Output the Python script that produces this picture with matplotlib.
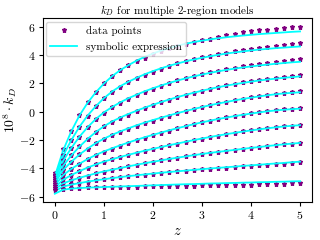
import numpy as np
import matplotlib
matplotlib.use('Agg')
import matplotlib.pyplot as plt

plt.rcParams['font.family'] = 'serif'
plt.rcParams['font.serif'] = ['cmr10']
plt.rcParams['mathtext.fontset'] = 'cm'
plt.rcParams['axes.formatter.use_mathtext'] = True

# redshift grid of the data points
z = [0.0, 0.1667, 0.3333, 0.5, 0.6667, 0.8333, 1.0, 1.1667, 1.3333, 1.5, 1.6667,
     1.8333, 2.0, 2.1667, 2.3333, 2.5, 2.6667, 2.8333, 3.0, 3.1667, 3.3333,
     3.5, 3.6667, 3.8333, 4.0, 4.1667, 4.3333, 4.5, 4.6667, 4.8333, 5.0]

# data points, 10^8 * k_D, one list per model (top to bottom)
pts1 = [-4.30, -2.60, -1.35, -0.25, 0.66, 1.38, 2.00, 2.55, 2.95, 3.27, 3.56, 3.82, 4.06, 4.28, 4.47, 4.64,
        4.79, 4.92, 5.04, 5.15, 5.26, 5.38, 5.50, 5.60, 5.68, 5.74, 5.79, 5.84, 5.89, 5.94, 6.00]
pts2 = [-4.43, -3.04, -1.98, -1.05, -0.27, 0.38, 0.94, 1.40, 1.77, 2.07, 2.35, 2.60, 2.83, 3.04, 3.24, 3.41,
        3.57, 3.71, 3.84, 3.95, 4.05, 4.15, 4.26, 4.35, 4.43, 4.51, 4.58, 4.64, 4.71, 4.76, 4.82]
pts3 = [-4.56, -3.41, -2.54, -1.76, -1.10, -0.52, -0.06, 0.31, 0.64, 0.92, 1.17, 1.41, 1.63, 1.83, 2.02, 2.21,
        2.37, 2.52, 2.66, 2.78, 2.90, 3.01, 3.10, 3.20, 3.29, 3.37, 3.44, 3.52, 3.58, 3.64, 3.69]
pts4 = [-4.70, -3.76, -3.07, -2.45, -1.91, -1.43, -1.03, -0.71, -0.44, -0.20, 0.03, 0.25, 0.46, 0.65, 0.83, 1.01,
        1.17, 1.32, 1.47, 1.62, 1.75, 1.86, 1.96, 2.06, 2.15, 2.23, 2.31, 2.39, 2.45, 2.51, 2.56]
pts5 = [-4.83, -4.08, -3.52, -3.01, -2.61, -2.23, -1.92, -1.65, -1.41, -1.20, -0.99, -0.80, -0.62, -0.44, -0.27, -0.11,
        0.05, 0.20, 0.34, 0.47, 0.60, 0.71, 0.82, 0.92, 1.01, 1.10, 1.18, 1.26, 1.32, 1.37, 1.43]
pts6 = [-4.96, -4.44, -4.02, -3.66, -3.34, -3.06, -2.82, -2.60, -2.39, -2.20, -2.01, -1.83, -1.66, -1.49, -1.33, -1.17,
        -1.02, -0.88, -0.74, -0.62, -0.50, -0.40, -0.30, -0.21, -0.12, -0.04, 0.03, 0.10, 0.16, 0.21, 0.26]
pts7 = [-5.09, -4.74, -4.45, -4.18, -3.94, -3.72, -3.52, -3.36, -3.20, -3.05, -2.90, -2.76, -2.63, -2.49, -2.36, -2.24,
        -2.12, -2.00, -1.89, -1.78, -1.68, -1.58, -1.48, -1.39, -1.31, -1.23, -1.16, -1.09, -1.03, -0.98, -0.94]
pts8 = [-5.22, -4.99, -4.81, -4.65, -4.50, -4.35, -4.22, -4.10, -3.98, -3.85, -3.74, -3.63, -3.53, -3.43, -3.33, -3.23,
        -3.14, -3.06, -2.98, -2.91, -2.85, -2.77, -2.70, -2.62, -2.55, -2.49, -2.42, -2.36, -2.31, -2.25, -2.20]
pts9 = [-5.35, -5.22, -5.11, -5.01, -4.92, -4.84, -4.76, -4.68, -4.61, -4.55, -4.49, -4.43, -4.37, -4.31, -4.26, -4.21,
        -4.16, -4.11, -4.06, -4.02, -3.98, -3.94, -3.90, -3.86, -3.82, -3.78, -3.74, -3.70, -3.66, -3.61, -3.56]
pts10 = [-5.50, -5.43, -5.39, -5.36, -5.34, -5.33, -5.32, -5.31, -5.30, -5.29, -5.28, -5.27, -5.26, -5.25, -5.24, -5.23,
         -5.22, -5.21, -5.20, -5.19, -5.17, -5.16, -5.15, -5.14, -5.13, -5.11, -5.10, -5.08, -5.07, -5.05, -5.04]

# symbolic expression evaluated on the same grid
fit1 = [-4.55, -2.75, -1.40, -0.28, 0.62, 1.36, 1.98, 2.50, 2.93, 3.28, 3.60, 3.87, 4.10, 4.31, 4.49, 4.65,
        4.79, 4.91, 5.01, 5.10, 5.18, 5.25, 5.31, 5.37, 5.42, 5.47, 5.51, 5.55, 5.59, 5.63, 5.66]
fit2 = [-4.65, -3.12, -2.02, -1.07, -0.28, 0.38, 0.95, 1.42, 1.80, 2.11, 2.39, 2.64, 2.86, 3.06, 3.24, 3.40,
        3.55, 3.68, 3.80, 3.91, 4.01, 4.10, 4.18, 4.25, 4.32, 4.38, 4.43, 4.48, 4.52, 4.56, 4.60]
fit3 = [-4.78, -3.48, -2.57, -1.77, -1.10, -0.52, -0.05, 0.33, 0.66, 0.95, 1.20, 1.44, 1.65, 1.85, 2.03, 2.20,
        2.35, 2.49, 2.62, 2.74, 2.85, 2.95, 3.04, 3.12, 3.19, 3.26, 3.32, 3.38, 3.43, 3.48, 3.52]
fit4 = [-4.92, -3.82, -3.10, -2.47, -1.92, -1.44, -1.03, -0.69, -0.41, -0.16, 0.07, 0.29, 0.49, 0.68, 0.86, 1.03,
        1.19, 1.34, 1.48, 1.61, 1.73, 1.84, 1.94, 2.03, 2.12, 2.20, 2.27, 2.33, 2.39, 2.44, 2.49]
fit5 = [-5.05, -4.12, -3.54, -3.02, -2.60, -2.22, -1.90, -1.63, -1.39, -1.17, -0.96, -0.77, -0.59, -0.42, -0.26, -0.10,
        0.05, 0.19, 0.33, 0.46, 0.58, 0.69, 0.80, 0.90, 0.99, 1.08, 1.16, 1.23, 1.29, 1.33, 1.37]
fit6 = [-5.20, -4.48, -4.04, -3.67, -3.34, -3.05, -2.80, -2.58, -2.37, -2.17, -1.98, -1.80, -1.63, -1.47, -1.31, -1.16,
        -1.02, -0.88, -0.75, -0.63, -0.51, -0.41, -0.31, -0.22, -0.13, -0.05, 0.03, 0.09, 0.14, 0.18, 0.22]
fit7 = [-5.33, -4.80, -4.47, -4.19, -3.94, -3.72, -3.52, -3.35, -3.19, -3.04, -2.89, -2.75, -2.62, -2.49, -2.36, -2.24,
        -2.12, -2.00, -1.89, -1.78, -1.68, -1.58, -1.49, -1.40, -1.32, -1.24, -1.17, -1.10, -1.04, -0.99, -0.95]
fit8 = [-5.45, -5.06, -4.84, -4.66, -4.50, -4.35, -4.21, -4.09, -3.97, -3.85, -3.74, -3.63, -3.53, -3.43, -3.33, -3.24,
        -3.15, -3.06, -2.98, -2.90, -2.83, -2.76, -2.69, -2.62, -2.55, -2.49, -2.42, -2.36, -2.30, -2.25, -2.20]
fit9 = [-5.60, -5.28, -5.14, -5.03, -4.93, -4.84, -4.76, -4.68, -4.61, -4.54, -4.48, -4.42, -4.36, -4.30, -4.25, -4.20,
        -4.15, -4.10, -4.05, -4.00, -3.96, -3.91, -3.87, -3.82, -3.78, -3.74, -3.69, -3.65, -3.61, -3.56, -3.52]
fit10 = [-5.78, -5.50, -5.42, -5.38, -5.35, -5.33, -5.31, -5.29, -5.27, -5.25, -5.23, -5.21, -5.19, -5.17, -5.15, -5.13,
         -5.11, -5.10, -5.08, -5.06, -5.05, -5.03, -5.02, -5.00, -4.99, -4.97, -4.96, -4.94, -4.93, -4.91, -4.90]

points = [pts1, pts2, pts3, pts4, pts5, pts6, pts7, pts8, pts9, pts10]
fits = [fit1, fit2, fit3, fit4, fit5, fit6, fit7, fit8, fit9, fit10]

fig = plt.figure(figsize=(3.2, 2.4), dpi=100)
ax = fig.add_axes([0.133, 0.158, 0.843, 0.766])

for i in range(len(points)):
    ax.plot(z, points[i], '*', color='purple', markersize=3.6,
            label='data points' if i == 0 else None)
    ax.plot(z, fits[i], '-', color='cyan', linewidth=1.3,
            label='symbolic expression' if i == 0 else None)

ax.set_title(r'$k_D$ for multiple 2-region models', fontsize=8, pad=3)
ax.set_xlabel(r'$z$', fontsize=10.5, labelpad=2)
ax.set_ylabel(r'$10^8 \cdot k_D$', fontsize=10, labelpad=0)
ax.tick_params(labelsize=8.5, length=3, pad=2)
ax.set_xticks([0, 1, 2, 3, 4, 5])
ax.set_yticks([-6, -4, -2, 0, 2, 4, 6])
ax.legend(loc='upper left', fontsize=8, borderaxespad=0.3, handlelength=2.4)

fig.savefig('out.png', dpi=100)
